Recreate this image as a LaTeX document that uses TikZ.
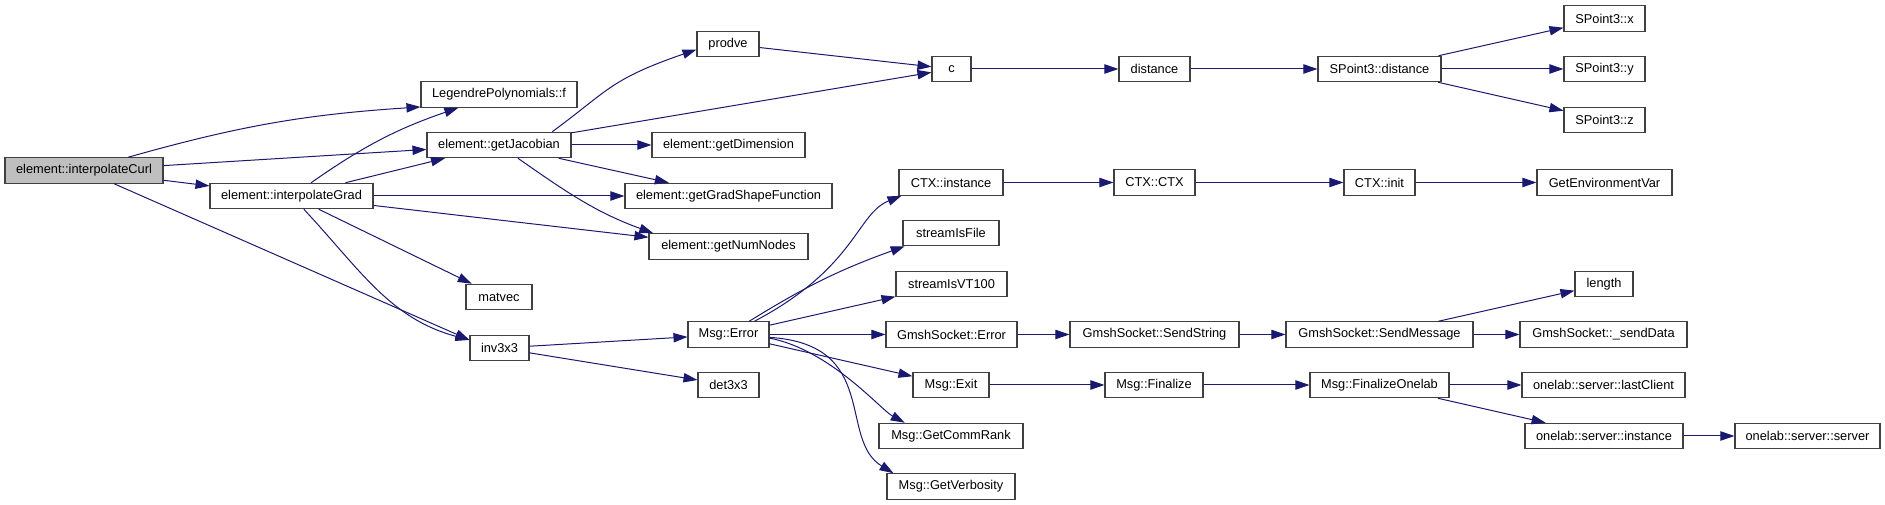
\documentclass[tikz,border=0pt]{standalone}
\usepackage{fontspec}
\setmainfont{Liberation Sans}
\usepackage{tikz}
\usetikzlibrary{arrows.meta,calc}
\usepackage{xcolor}
\definecolor{callblue}{HTML}{191970}
\definecolor{rootgray}{HTML}{BFBFBF}
\tikzset{
  fn/.style    ={rectangle, draw=black!75, line width=0.8pt, fill=white,
                 font=\fontsize{9.6}{11.5}\selectfont, minimum height=19.1pt,
                 inner sep=0pt},
  fnroot/.style={fn, fill=rootgray},                  % gerufene Wurzel
  boxw/.style  ={minimum width=#1*0.75pt},            % Breite in Pixeln
  call/.style  ={-{Triangle[length=10.5pt,width=7pt]}, line width=0.75pt, draw=callblue},
}

\begin{document}
\begin{tikzpicture}[x=0.75pt, y=-0.75pt]
  \useasboundingbox (0,0) rectangle (1885,505);
  \node[fnroot, boxw=158] (curl)      at (84,170.5)    {element::interpolateCurl};
  \node[fn, boxw=163]     (grad)      at (291.5,196)   {element::interpolateGrad};
  \node[fn, boxw=156]     (legendre)  at (499,94.5)    {LegendrePolynomials::f};
  \node[fn, boxw=144]     (jacobian)  at (499,145)     {element::getJacobian};
  \node[fn, boxw=66]      (matvec)    at (499,297)     {matvec};
  \node[fn, boxw=59]      (inv)       at (499.5,348)   {inv3x3};
  \node[fn, boxw=62]      (prodve)    at (728,44)      {prodve};
  \node[fn, boxw=153]     (dim)       at (728.5,145)   {element::getDimension};
  \node[fn, boxw=207]     (gradshape) at (728.5,196)   {element::getGradShapeFunction};
  \node[fn, boxw=159]     (numnodes)  at (728.5,246.5) {element::getNumNodes};
  \node[fn, boxw=81]      (msgerror)  at (728.5,334.5) {Msg::Error};
  \node[fn, boxw=61]      (det)       at (728.5,385)   {det3x3};
  \node[fn, boxw=39]      (c)         at (951.5,69)    {c};
  \node[fn, boxw=104]     (ctxinst)   at (951,182.5)   {CTX::instance};
  \node[fn, boxw=96]      (isfile)    at (951,233)     {streamIsFile};
  \node[fn, boxw=111]     (isvt)      at (951.5,284)   {streamIsVT100};
  \node[fn, boxw=131]     (sockerr)   at (951.5,334.5) {GmshSocket::Error};
  \node[fn, boxw=76]      (msgexit)   at (951,385)     {Msg::Exit};
  \node[fn, boxw=144]     (commrank)  at (951,436)     {Msg::GetCommRank};
  \node[fn, boxw=128]     (verbosity) at (951,486.5)   {Msg::GetVerbosity};
  \node[fn, boxw=71]      (distance)  at (1154.5,69)   {distance};
  \node[fn, boxw=81]      (ctxctx)    at (1154.5,182.5) {CTX::CTX};
  \node[fn, boxw=169]     (sendstr)   at (1154.5,334.5) {GmshSocket::SendString};
  \node[fn, boxw=98]      (finalize)  at (1154,385)    {Msg::Finalize};
  \node[fn, boxw=123]     (spdist)    at (1379.5,69)   {SPoint3::distance};
  \node[fn, boxw=71]      (ctxinit)   at (1379.5,182.5) {CTX::init};
  \node[fn, boxw=187]     (sendmsg)   at (1379.5,334.5) {GmshSocket::SendMessage};
  \node[fn, boxw=139]     (finonelab) at (1379.5,385)  {Msg::FinalizeOnelab};
  \node[fn, boxw=81]      (spx)       at (1604.5,18.5) {SPoint3::x};
  \node[fn, boxw=81]      (spy)       at (1604.5,69)   {SPoint3::y};
  \node[fn, boxw=81]      (spz)       at (1604.5,120)  {SPoint3::z};
  \node[fn, boxw=135]     (getenv)    at (1604.5,182.5) {GetEnvironmentVar};
  \node[fn, boxw=58]      (length)    at (1604,284)    {length};
  \node[fn, boxw=167]     (senddata)  at (1603.5,334.5) {GmshSocket::\_sendData};
  \node[fn, boxw=163]     (lastclient) at (1603.5,385) {onelab::server::lastClient};
  \node[fn, boxw=158]     (olinst)    at (1604,436)    {onelab::server::instance};
  \node[fn, boxw=145]     (olserver)  at (1807.5,436)  {onelab::server::server};
  % Aufrufe
  \draw[call] (curl) to[bend left=6] (legendre.189);
  \draw[call] (curl) -- (jacobian);
  \draw[call] (curl) -- (grad);
  \draw[call] (curl) -- (inv.165);
  \draw[call] (grad) to[bend left=8] (legendre);
  \draw[call] (grad) -- (jacobian);
  \draw[call] (grad) -- (gradshape);
  \draw[call] (grad) -- (numnodes);
  \draw[call] (grad) -- (matvec);
  \draw[call] (grad) to[out=-47,in=165] (inv);
  \draw[call] (jacobian.14) .. controls +(56,-41) and +(-87,30) .. (prodve.190);
  \draw[call] (jacobian) -- (c);
  \draw[call] (jacobian) -- (dim);
  \draw[call] (jacobian) -- (gradshape);
  \draw[call] (jacobian) to[out=-35,in=160] (numnodes.170);
  \draw[call] (prodve) -- (c);
  \draw[call] (c) -- (distance);
  \draw[call] (distance) -- (spdist);
  \draw[call] (spdist) -- (spx);
  \draw[call] (spdist) -- (spy);
  \draw[call] (spdist) -- (spz);
  \draw[call] (inv) -- (msgerror);
  \draw[call] (inv) -- (det);
  \draw[call] (msgerror.27) .. controls +(102,-54) and +(-45,18) .. (ctxinst.195);
  \draw[call] (msgerror) to[bend left=6] (isfile.196);
  \draw[call] (msgerror) -- (isvt);
  \draw[call] (msgerror) -- (sockerr);
  \draw[call] (msgerror) -- (msgexit);
  \draw[call] (msgerror.-5) .. controls +(61,12) and +(-24,-13) .. (commrank.164);
  \draw[call] (msgerror.-4) .. controls +(111,7) and +(-56,-34) .. (verbosity.167);
  \draw[call] (ctxinst) -- (ctxctx);
  \draw[call] (ctxctx) -- (ctxinit);
  \draw[call] (ctxinit) -- (getenv);
  \draw[call] (sockerr) -- (sendstr);
  \draw[call] (sendstr) -- (sendmsg);
  \draw[call] (sendmsg) -- (length);
  \draw[call] (sendmsg) -- (senddata);
  \draw[call] (msgexit) -- (finalize);
  \draw[call] (finalize) -- (finonelab);
  \draw[call] (finonelab) -- (lastclient);
  \draw[call] (finonelab) -- (olinst);
  \draw[call] (olinst) -- (olserver);
\end{tikzpicture}
\end{document}
